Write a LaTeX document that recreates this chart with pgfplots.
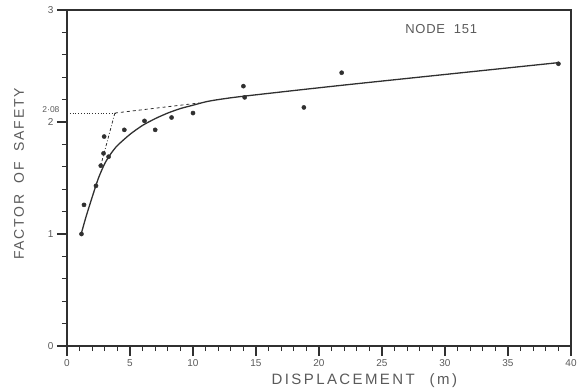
\documentclass[border=0pt]{standalone}
\usepackage{pgfplots}
\pgfplotsset{compat=1.18}
\usepackage{fontspec}
\setmainfont{Liberation Sans}
\definecolor{ink}{HTML}{303030}
\definecolor{txt}{HTML}{5A5A5A}
\begin{document}
\begin{tikzpicture}
\begin{axis}[
  at={(67pt,43pt)}, anchor=south west,
  scale only axis, width=504pt, height=336pt,
  xmin=0, xmax=40, ymin=0, ymax=3,
  xtick={0,5,...,40}, ytick={0,1,2,3},
  minor xtick={0,1,...,40},
  minor ytick={0.2,0.4,0.6,0.8,1.2,1.4,1.6,1.8,2.2,2.4,2.6,2.8},
  xtick pos=bottom, ytick pos=left, tick align=outside,
  major tick length=10pt, minor tick length=5pt,
  axis line style={ink, line width=1.2pt},
  major tick style={ink, line width=1.1pt},
  minor tick style={ink, line width=0.9pt},
  tick label style={txt, font=\fontsize{10}{12}\selectfont},
  /pgf/number format/assume math mode=true,
  xlabel={\addfontfeature{LetterSpace=16}DISPLACEMENT\quad(m)},
  ylabel={\addfontfeature{LetterSpace=12}FACTOR\ \ OF\ \ SAFETY},
  label style={txt, font=\fontsize{14}{16}\selectfont},
  xlabel style={at={(axis description cs:0.59,-0.104)}, anchor=center, font=\fontsize{15}{17}\selectfont},
  ylabel style={at={(axis description cs:-0.095,0.512)}, anchor=center},
]
% fitted curve
\addplot[ink, line width=1.3pt, smooth, tension=0.4] coordinates {
  (1.1,0.99) (1.5,1.15) (2.0,1.33) (2.5,1.50) (3.0,1.63) (3.5,1.72)
  (4.0,1.79) (5.0,1.89) (6.0,1.97) (7.0,2.03) (8.0,2.08) (9.0,2.12)
  (10.0,2.15) (11.0,2.18) (12.0,2.20) (14.0,2.23) (22.0,2.33) (39.0,2.53)};
% construction lines
\addplot[ink, line width=0.8pt, dotted] coordinates {(0,2.08) (3.8,2.08)};
\addplot[ink, line width=0.8pt, dashed] coordinates {(3.8,2.08) (10.5,2.17)};
\addplot[ink, line width=0.8pt, dash dot] coordinates {(3.8,2.08) (2.7,1.62)};
% data points
\addplot[only marks, mark=*, mark size=2.1pt, ink] coordinates {
  (1.15,1.00) (1.35,1.26) (2.3,1.43) (2.68,1.61) (2.9,1.72) (2.95,1.87)
  (3.3,1.69) (4.55,1.93) (6.15,2.01) (7.0,1.93) (8.3,2.04) (10.0,2.08)
  (14.0,2.32) (14.1,2.22) (18.8,2.13) (21.8,2.44) (39.0,2.52)};
\node[txt, font=\fontsize{13}{15}\selectfont\addfontfeature{LetterSpace=6}] at (axis cs:29.7,2.83) {NODE\ \ 151};
\end{axis}
\node[txt, font=\fontsize{8.5}{10}\selectfont, anchor=east] at (63pt,43pt+236pt) {2·08};
\pgfresetboundingbox
\path[use as bounding box] (0,0) rectangle (579pt,389pt);
\end{tikzpicture}
\end{document}
